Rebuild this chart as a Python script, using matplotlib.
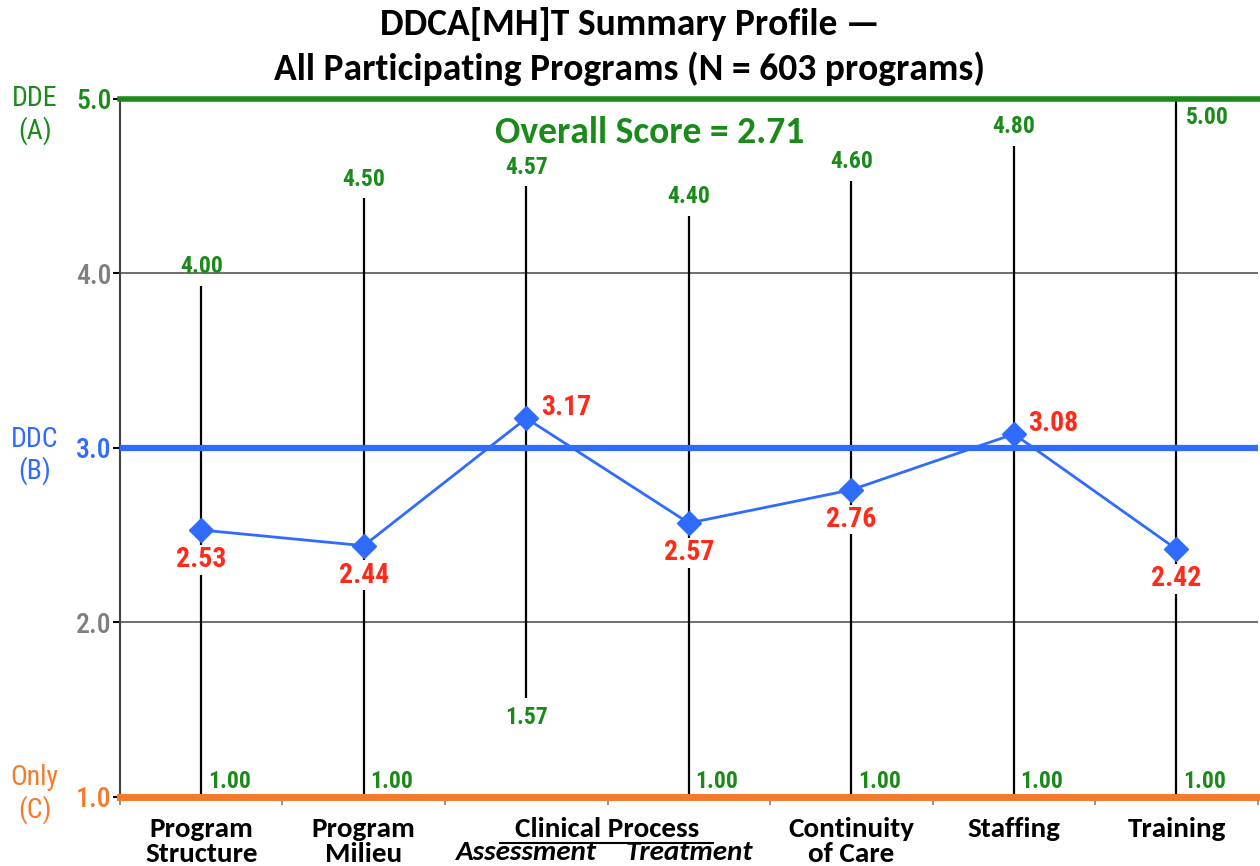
import matplotlib.pyplot as plt
import matplotlib.transforms as mtransforms
import numpy as np

# DDCA[MH]T summary profile values
categories = ['Program\nStructure', 'Program\nMilieu', 'Assessment', 'Treatment',
              'Continuity\nof Care', 'Staffing', 'Training']
mean_scores = [2.53, 2.44, 3.17, 2.57, 2.76, 3.08, 2.42]
max_scores = [4.00, 4.50, 4.57, 4.40, 4.60, 4.80, 5.00]
min_scores = [1.00, 1.00, 1.57, 1.00, 1.00, 1.00, 1.00]
overall_score = 2.71
n_programs = 603
y_ticks = [1.0, 2.0, 3.0, 4.0, 5.0]

GREEN = '#1a8a1a'
BLUE = '#2f6bff'
ORANGE = '#f47a2c'
RED = '#ff2a1a'
GRAY = '#7f7f7f'
NARROW = 'Roboto Condensed'
SANS = 'Carlito'

fig = plt.figure(figsize=(12.6, 8.66), dpi=100)
ax = fig.add_axes([0.0952, 0.0797, 0.903, 0.806])
ax.set_xlim(0, 7)
ax.set_ylim(1, 5)

x = np.arange(len(categories)) + 0.5

# reference lines
ax.axhline(5.0, color=GREEN, lw=4, zorder=4, clip_on=False)
ax.axhline(4.0, color='#555555', lw=1.2, zorder=1)
ax.axhline(3.0, color=BLUE, lw=4.5, zorder=4)
ax.axhline(2.0, color='#555555', lw=1.2, zorder=1)
ax.axhline(1.0, color=ORANGE, lw=5, zorder=4, clip_on=False)

# range lines (min to max), stopped just short of the max label
line_tops = [m - 0.07 if m < 5.0 else m for m in max_scores]
ax.vlines(x, min_scores, line_tops, color='black', lw=1.6, zorder=2)

for i in range(len(x)):
    if max_scores[i] >= 5.0:
        ax.text(x[i] + 0.06, max_scores[i] - 0.04, f'{max_scores[i]:.2f}', color=GREEN,
                fontsize=17, family=NARROW, fontweight='bold', ha='left', va='top')
    else:
        ax.text(x[i], max_scores[i] + 0.04, f'{max_scores[i]:.2f}', color=GREEN,
                fontsize=17, family=NARROW, fontweight='bold', ha='center', va='center')
    if min_scores[i] > 1.0:
        ax.text(x[i], min_scores[i] - 0.05, f'{min_scores[i]:.2f}', color=GREEN,
                fontsize=17, family=NARROW, fontweight='bold', ha='center', va='top')
    else:
        ax.text(x[i] + 0.04, min_scores[i] + 0.025, f'{min_scores[i]:.2f}', color=GREEN,
                fontsize=17, family=NARROW, fontweight='bold', ha='left', va='bottom', zorder=5)

# means
ax.plot(x, mean_scores, color=BLUE, lw=2, marker='D', markersize=12, zorder=6)
for i in range(len(x)):
    if mean_scores[i] > 3.0:
        ax.text(x[i] + 0.09, mean_scores[i] + 0.06, f'{mean_scores[i]:.2f}', color=RED,
                fontsize=20, family=NARROW, fontweight='bold', ha='left', va='center',
                zorder=7, bbox=dict(facecolor='white', edgecolor='none', pad=1))
    else:
        ax.text(x[i], mean_scores[i] - 0.17, f'{mean_scores[i]:.2f}', color=RED,
                fontsize=20, family=NARROW, fontweight='bold', ha='center', va='center',
                zorder=7, bbox=dict(facecolor='white', edgecolor='none', pad=1))

ax.text(3.26, 4.81, f'Overall Score = {overall_score:.2f}', color=GREEN, fontsize=27,
        family=SANS, fontweight='bold', ha='center', va='center')

# axes styling
for s in ['top', 'right', 'bottom']:
    ax.spines[s].set_visible(False)
ax.spines['left'].set_color('#444444')
ax.spines['left'].set_linewidth(1.5)

ax.set_yticks(y_ticks)
ax.set_yticklabels([f'{v:.1f}' for v in y_ticks], family=NARROW, fontsize=20, fontweight='medium')
tick_colors = [ORANGE, GRAY, BLUE, GRAY, GREEN]
for lab, c, tk in zip(ax.get_yticklabels(), tick_colors, ax.yaxis.get_major_ticks()):
    lab.set_color(c)
    tk.tick1line.set_color(c)
ax.tick_params(axis='y', length=5, width=1.5, pad=1)

ax.set_xticks(np.arange(0, 8))
ax.set_xticklabels([])
ax.tick_params(axis='x', length=6, width=1.2, color=GRAY, direction='out', pad=0)

trans = mtransforms.blended_transform_factory(ax.transData, ax.transAxes)
for i, lab in enumerate(categories):
    if i in (2, 3):
        continue
    ax.text(x[i], -0.028, lab, transform=trans, ha='center', va='top', fontsize=21,
            family=SANS, fontweight='bold', linespacing=1.05)
ax.text(3.0, -0.028, 'Clinical Process', transform=trans, ha='center', va='top',
        fontsize=21, family=SANS, fontweight='bold')
ax.plot([2.34, 3.65], [-0.066, -0.066], transform=trans, color='black', lw=1.5, clip_on=False)
ax.text(x[2], -0.062, categories[2], transform=trans, ha='center', va='top', fontsize=21,
        family=SANS, fontweight='bold', style='italic')
ax.text(x[3], -0.062, categories[3], transform=trans, ha='center', va='top', fontsize=21,
        family=SANS, fontweight='bold', style='italic')

# side labels
ytrans = ax.get_yaxis_transform()
side_labels = [('DDE', '(A)', 5.0, GREEN), ('DDC', '(B)', 3.05, BLUE), ('Only', '(C)', 1.11, ORANGE)]
for top, bottom, yv, c in side_labels:
    ax.text(-0.075, yv, top, transform=ytrans, ha='center', va='center', color=c,
            fontsize=20, family=NARROW)
    ax.text(-0.075, yv - 0.18, bottom, transform=ytrans, ha='center', va='center', color=c,
            fontsize=20, family=NARROW)

fig.text(0.5, 0.972, 'DDCA[MH]T Summary Profile \u2014', ha='center', va='center',
         fontsize=27, family=SANS, fontweight='bold')
fig.text(0.5, 0.9205, f'All Participating Programs (N = {n_programs} programs)', ha='center',
         va='center', fontsize=27, family=SANS, fontweight='bold')

fig.savefig('out.png', dpi=100)
